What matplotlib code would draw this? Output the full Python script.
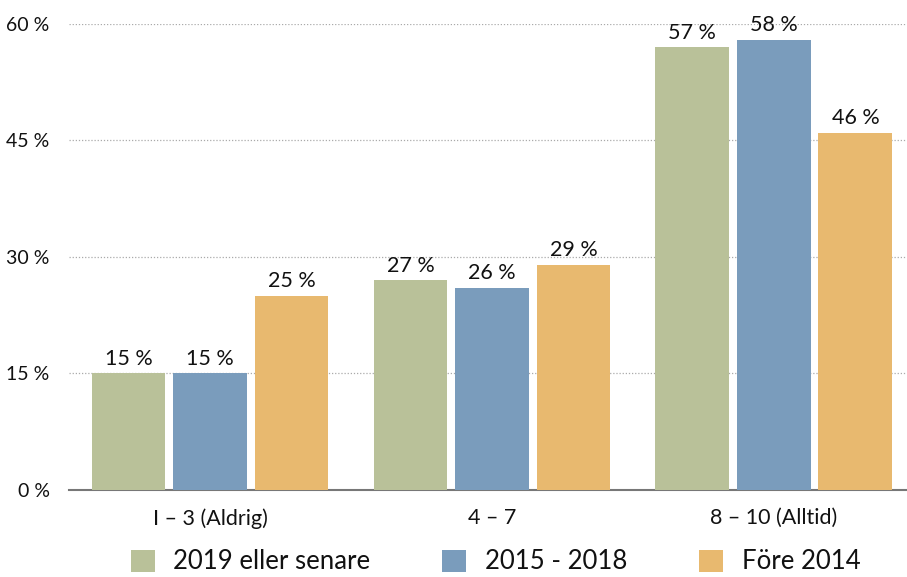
import numpy as np
import matplotlib
matplotlib.use('Agg')
import matplotlib.pyplot as plt

plt.rcParams['font.family'] = ['Lato', 'DejaVu Sans']

categories = ['I – 3 (Aldrig)', '4 – 7', '8 – 10 (Alltid)']
series_names = ['2019 eller senare', '2015 - 2018', 'Före 2014']
v2019 = [15, 27, 57]
v2015 = [15, 26, 58]
vfore = [25, 29, 46]
colors = ['#B9C199', '#7A9CBC', '#E8B96F']
yticks = [0, 15, 30, 45, 60]

fig = plt.figure(figsize=(9.07, 5.77), dpi=100)
ax = fig.add_axes([0.0761, 0.1508, 0.9239, 0.8076])

x = np.arange(len(categories))
w = 0.262
off = 0.289
for i, (vals, col, name) in enumerate(zip([v2019, v2015, vfore], colors, series_names)):
    bars = ax.bar(x + (i - 1) * off, vals, width=w, color=col, label=name, zorder=3)
    for b, v in zip(bars, vals):
        ax.text(b.get_x() + b.get_width() / 2, v + 0.6, '%d %%' % v,
                ha='center', va='bottom', fontsize=15.5, color='#111111',
                clip_on=False, zorder=4)

ax.set_xlim(-0.5, 2.472)
ax.set_ylim(0, 60)
ax.set_yticks(yticks)
ax.set_yticklabels(['%d %%' % t for t in yticks], fontsize=14, color='#111111')
ax.set_xticks(x)
ax.set_xticklabels(categories, fontsize=15.5, color='#111111')
ax.tick_params(axis='both', length=0)
ax.tick_params(axis='y', pad=14)
ax.tick_params(axis='x', pad=13)

for t in yticks[1:]:
    ax.axhline(t, color='#aaaaaa', linestyle=(0, (1, 1.5)), linewidth=0.9, zorder=1)
for s in ['top', 'right', 'left']:
    ax.spines[s].set_visible(False)
ax.spines['bottom'].set_color('#777777')
ax.spines['bottom'].set_linewidth(1.5)

leg = fig.legend(loc='center left', bbox_to_anchor=(131 / 907, 0.026), ncol=3,
                 frameon=False, fontsize=18.5, handlelength=0.93, handleheight=0.93,
                 handletextpad=0.72, columnspacing=2.8, borderpad=0, borderaxespad=0)
for t in leg.get_texts():
    t.set_color('#111111')

fig.savefig('out.png', dpi=100)
